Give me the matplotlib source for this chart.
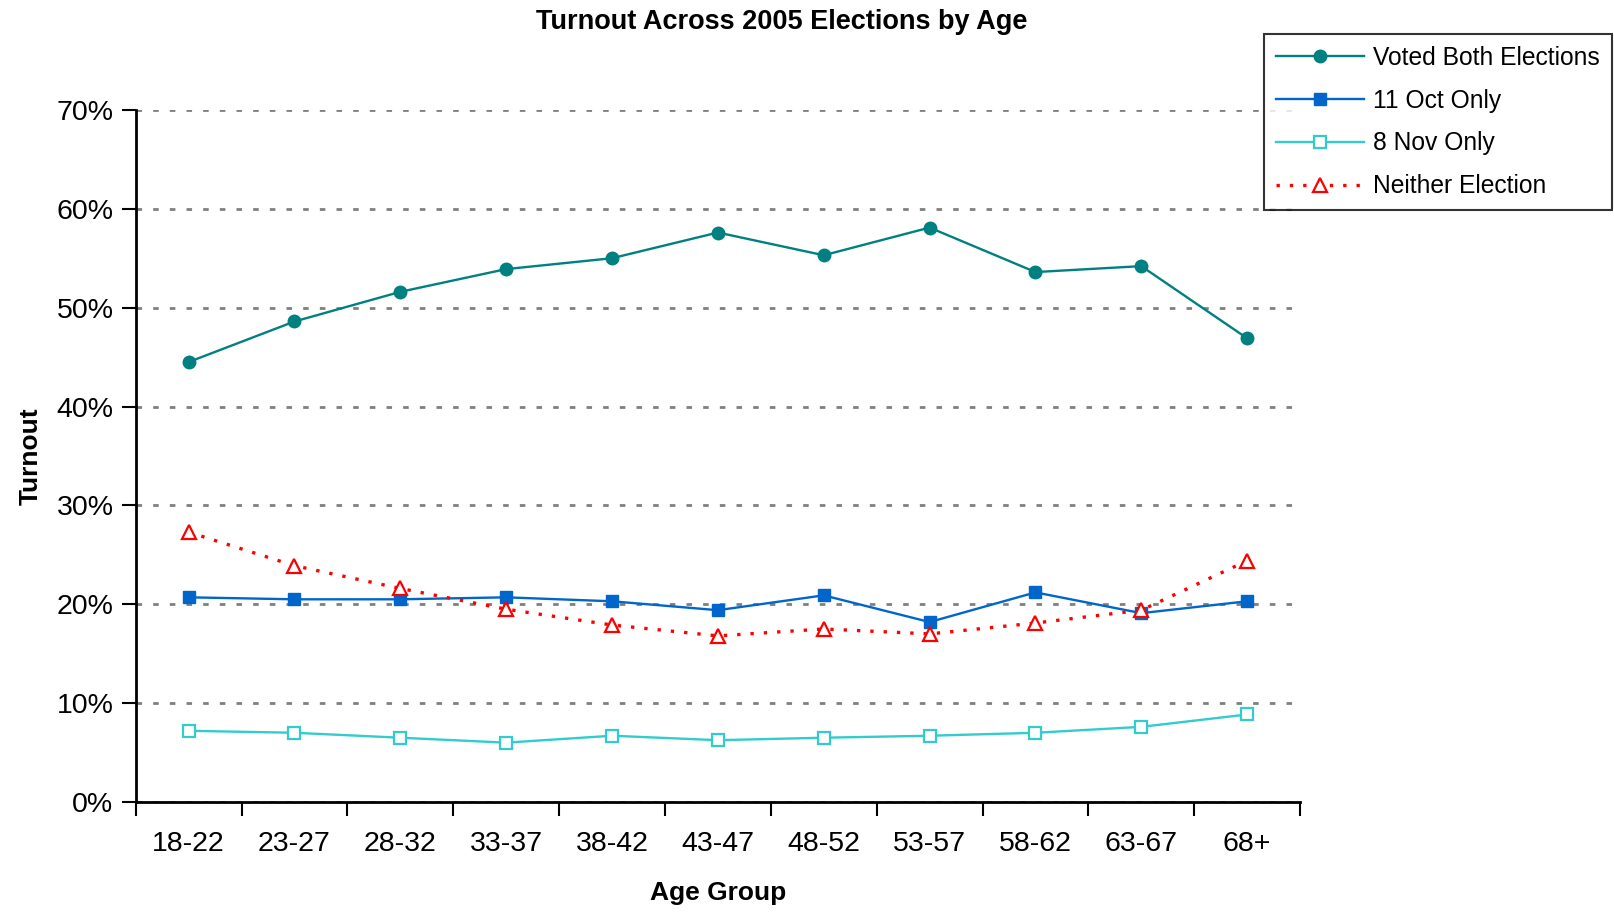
import matplotlib
matplotlib.use("Agg")
from matplotlib import pyplot as plt
from matplotlib.ticker import FuncFormatter
import numpy as np

plt.rcParams['font.family'] = ['Liberation Sans', 'DejaVu Sans']

age_groups = ["18-22", "23-27", "28-32", "33-37", "38-42", "43-47",
              "48-52", "53-57", "58-62", "63-67", "68+"]
voted_both = [44.5, 48.6, 51.6, 53.9, 55.0, 57.6, 55.3, 58.1, 53.6, 54.2, 46.9]
oct_only = [20.7, 20.5, 20.5, 20.7, 20.3, 19.4, 20.9, 18.2, 21.2, 19.1, 20.3]
nov_only = [7.2, 7.0, 6.5, 6.0, 6.7, 6.25, 6.5, 6.7, 7.0, 7.6, 8.85]
neither = [27.3, 23.9, 21.6, 19.5, 17.9, 16.8, 17.5, 17.0, 18.1, 19.4, 24.4]

x = np.arange(len(age_groups))

fig = plt.figure(figsize=(16.15, 9.13), dpi=100)
ax = fig.add_axes([0.084, 0.1216, 0.721, 0.758])

ax.plot(x, [v / 100 for v in voted_both], color="#008080", lw=1.7,
        marker="o", ms=9, label="Voted Both Elections")
ax.plot(x, [v / 100 for v in oct_only], color="#0066CC", lw=1.7,
        marker="s", ms=9, label="11 Oct Only")
ax.plot(x, [v / 100 for v in nov_only], color="#33CCCC", lw=1.7,
        marker="s", ms=9, mfc="white", mew=1.6, label="8 Nov Only")
ax.plot(x, [v / 100 for v in neither], color="#FF0000", lw=2.4, ls=(0, (1, 3)),
        marker="^", ms=10, mfc="white", mew=1.6, label="Neither Election")

ax.set_xlim(-0.5, len(age_groups) - 0.5)
ax.set_ylim(0, 0.7)
ax.set_yticks(np.arange(0, 0.71, 0.1))
ax.yaxis.set_major_formatter(FuncFormatter(lambda v, p: "{:.0f}%".format(v * 100)))
ax.yaxis.grid(True, color="#808080", ls=(0, (2, 4)), lw=2)
ax.set_axisbelow(True)

ax.set_xticks(np.arange(-0.5, len(age_groups), 1))
ax.set_xticklabels([])
ax.set_xticks(x, minor=True)
ax.set_xticklabels(age_groups, minor=True)
ax.tick_params(axis="x", which="minor", length=0, pad=21, labelsize=20.5)
ax.tick_params(axis="x", which="major", direction="out", length=10, width=1.5)
ax.tick_params(axis="y", direction="out", length=10, width=1.5, labelsize=20.5, pad=6)

for s in ["top", "right"]:
    ax.spines[s].set_visible(False)
for s in ["left", "bottom"]:
    ax.spines[s].set_linewidth(2)
    ax.spines[s].set_color("black")

ax.set_xlabel("Age Group", fontsize=19, fontweight="bold", labelpad=17)
ax.set_ylabel("Turnout", fontsize=19, fontweight="bold", labelpad=10)
fig.suptitle("Turnout Across 2005 Elections by Age", fontsize=19.5,
             fontweight="bold", x=0.484, y=0.99)

leg = fig.legend(loc="upper right", bbox_to_anchor=(0.998, 0.963), fontsize=17.7,
                 frameon=True, fancybox=False, edgecolor="black",
                 handlelength=3.6, handletextpad=0.34, borderpad=0.5,
                 labelspacing=0.76, borderaxespad=0.0)
leg.get_frame().set_linewidth(1.5)

plt.savefig("out.png", dpi=100)
